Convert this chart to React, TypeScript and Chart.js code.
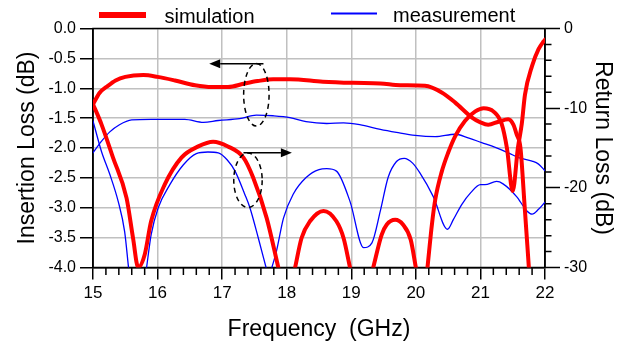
import React, { useEffect, useRef } from 'react';
import { Chart, registerables } from 'chart.js';

Chart.register(...registerables);

const FONT = "'Liberation Sans', Arial, Helvetica, sans-serif";
const RED = '#ff0000';
const BLUE = '#0000ff';

// ---- Data (frequency in GHz) ----
const simILFreq = [15.0, 15.1, 15.23, 15.35, 15.5, 15.78, 16.0, 16.27, 16.58, 16.84, 17.09, 17.35, 17.55, 17.79, 18.05, 18.56, 19.03, 19.45, 19.76, 20.14, 20.4, 20.61, 20.87, 21.0, 21.12, 21.28, 21.43, 21.51, 21.56, 21.62, 21.68, 21.75];
const simILVal = [-1.27, -1.08, -0.96, -0.87, -0.81, -0.78, -0.81, -0.87, -0.95, -0.98, -0.98, -0.92, -0.88, -0.85, -0.85, -0.89, -0.91, -0.92, -0.95, -0.96, -1.07, -1.24, -1.49, -1.57, -1.61, -1.56, -1.52, -1.61, -1.77, -2.0, -2.9, -4.0];

const simRLFreq = [15.0, 15.13, 15.31, 15.52, 15.62, 15.7, 15.8, 15.9, 16.11, 16.37, 16.63, 16.86, 17.09, 17.33, 17.48, 17.69, 17.87, 18.0, 18.13, 18.23, 18.36, 18.57, 18.77, 18.88, 18.98, 19.15, 19.34, 19.47, 19.55, 19.68, 19.8, 19.92, 20.0, 20.1, 20.18, 20.25, 20.3, 20.4, 20.5, 20.61, 20.76, 20.92, 21.05, 21.2, 21.33, 21.41, 21.5, 21.58, 21.64, 21.69, 21.8, 21.9, 21.98, 22.0];
const simRLVal = [-9.5, -12.0, -16.2, -21.3, -26.3, -30, -28.4, -24.2, -19.6, -16.2, -14.8, -14.2, -14.8, -16.2, -18.7, -23.8, -30, null, -30, -26.3, -24.2, -22.9, -24.2, -26.3, -30, null, -30, -25.9, -24.6, -24.0, -24.6, -26.5, -30, null, -30, -24.5, -21.5, -18.0, -15.6, -13.5, -11.6, -10.4, -10.0, -10.4, -12.0, -15.0, -20.4, -15.0, -12.0, -8.3, -4.7, -2.6, -1.6, -1.4];

const measILFreq = [15.0, 15.13, 15.26, 15.41, 15.6, 15.9, 16.42, 16.71, 16.94, 17.27, 17.53, 17.79, 18.05, 18.3, 18.62, 18.88, 19.13, 19.45, 19.7, 19.99, 20.3, 20.61, 20.81, 21.02, 21.23, 21.43, 21.59, 21.8, 21.9, 22.0];
const measILVal = [-2.08, -1.89, -1.73, -1.61, -1.53, -1.52, -1.52, -1.57, -1.54, -1.51, -1.45, -1.46, -1.49, -1.56, -1.59, -1.58, -1.61, -1.69, -1.74, -1.79, -1.81, -1.77, -1.83, -1.91, -1.99, -2.08, -2.16, -2.22, -2.27, -2.38];

const measRLFreq = [15.0, 15.13, 15.26, 15.39, 15.49, 15.55, 15.7, 15.83, 15.9, 16.01, 16.19, 16.4, 16.6, 16.78, 16.94, 17.08, 17.2, 17.35, 17.43, 17.56, 17.68, 17.72, 17.77, 17.84, 17.95, 18.1, 18.3, 18.5, 18.62, 18.77, 18.98, 19.19, 19.32, 19.45, 19.57, 19.7, 19.82, 19.95, 20.06, 20.27, 20.49, 20.58, 20.71, 20.85, 21.0, 21.07, 21.25, 21.35, 21.56, 21.72, 21.8, 21.9, 22.0];
const measRLVal = [-11.6, -15.4, -18.3, -21.7, -25.5, -30, null, -30, -25.9, -22.5, -19.6, -17.1, -15.7, -15.5, -15.6, -16.5, -17.9, -20.8, -22.5, -26.3, -30, null, -30, -28.0, -23.8, -20.8, -18.7, -17.7, -17.6, -17.9, -21.7, -27.5, -26.9, -22.9, -18.7, -16.7, -16.3, -16.9, -18.1, -21.1, -25.2, -24.0, -22.1, -20.6, -19.6, -19.6, -19.2, -19.5, -21.1, -22.9, -23.3, -22.7, -21.8];

const legendLabels = ['simulation', 'measurement'];
const xTitle = 'Frequency  (GHz)';
const yTitle = 'Insertion Loss (dB)';
const y2Title = 'Return Loss (dB)';

// annotations in data coordinates (freq GHz, insertion-loss dB)
const ellipses = [
  { f: 17.53, v: -1.11, rf: 0.197, rv: 0.523 },
  { f: 17.4, v: -2.54, rf: 0.22, rv: 0.456 },
];
const arrows = [
  { f0: 17.64, f1: 16.8, v: -0.59 },
  { f0: 17.33, f1: 18.08, v: -2.08 },
];

const toPts = (f: number[], v: (number | null)[]) => f.map((x, i) => ({ x, y: v[i] }));
const isInt = (v: number) => Math.abs(v - Math.round(v)) < 1e-6;
const isTen = (v: number) => Math.abs(v / 10 - Math.round(v / 10)) < 1e-6;

export default function App() {
  const ref = useRef<HTMLCanvasElement>(null);

  useEffect(() => {
    const canvas = ref.current;
    if (!canvas) return;

    const framePlugin = {
      id: 'frame',
      beforeDatasetsDraw(chart: any) {
        const { ctx, chartArea: a } = chart;
        ctx.save();
        ctx.strokeStyle = '#000';
        ctx.lineWidth = 1.5;
        ctx.strokeRect(a.left, a.top, a.right - a.left, a.bottom - a.top);
        ctx.beginPath();
        const xs = chart.scales.x;
        xs.ticks.forEach((t: any) => {
          if (!isInt(t.value)) {
            const px = xs.getPixelForValue(t.value);
            ctx.moveTo(px, a.bottom);
            ctx.lineTo(px, a.bottom + 7.5);
          }
        });
        const yr = chart.scales.y2;
        yr.ticks.forEach((t: any) => {
          if (!isTen(t.value)) {
            const py = yr.getPixelForValue(t.value);
            ctx.moveTo(a.right, py);
            ctx.lineTo(a.right + 6.5, py);
          }
        });
        ctx.stroke();
        ctx.restore();
      },
    };

    const annotPlugin = {
      id: 'annot',
      afterDatasetsDraw(chart: any) {
        const { ctx } = chart;
        const xs = chart.scales.x;
        const ys = chart.scales.y;
        ctx.save();
        ctx.strokeStyle = '#000';
        ctx.fillStyle = '#000';
        ctx.lineWidth = 1.5;
        ctx.setLineDash([5, 4]);
        ellipses.forEach((e) => {
          const cx = xs.getPixelForValue(e.f);
          const cy = ys.getPixelForValue(e.v);
          const rx = Math.abs(xs.getPixelForValue(e.f + e.rf) - cx);
          const ry = Math.abs(ys.getPixelForValue(e.v + e.rv) - cy);
          ctx.beginPath();
          ctx.ellipse(cx, cy, rx, ry, 0, 0, Math.PI * 2);
          ctx.stroke();
        });
        ctx.setLineDash([]);
        arrows.forEach((ar) => {
          const x0 = xs.getPixelForValue(ar.f0);
          const x1 = xs.getPixelForValue(ar.f1);
          const y = ys.getPixelForValue(ar.v);
          const dir = Math.sign(x1 - x0);
          const head = 11;
          ctx.beginPath();
          ctx.moveTo(x0, y);
          ctx.lineTo(x1 - dir * head, y);
          ctx.stroke();
          ctx.beginPath();
          ctx.moveTo(x1, y);
          ctx.lineTo(x1 - dir * head, y - 4.5);
          ctx.lineTo(x1 - dir * head, y + 4.5);
          ctx.closePath();
          ctx.fill();
        });
        ctx.restore();
      },
    };

    const legendPlugin = {
      id: 'customLegend',
      afterDraw(chart: any) {
        const { ctx } = chart;
        ctx.save();
        ctx.lineCap = 'butt';
        ctx.strokeStyle = RED;
        ctx.lineWidth = 6;
        ctx.beginPath();
        ctx.moveTo(99, 15);
        ctx.lineTo(146, 15);
        ctx.stroke();
        ctx.strokeStyle = BLUE;
        ctx.lineWidth = 2;
        ctx.beginPath();
        ctx.moveTo(331, 13.5);
        ctx.lineTo(377, 13.5);
        ctx.stroke();
        ctx.fillStyle = '#000';
        ctx.font = `20px ${FONT}`;
        ctx.textBaseline = 'alphabetic';
        ctx.textAlign = 'left';
        ctx.fillText(legendLabels[0], 164.5, 23);
        ctx.fillText(legendLabels[1], 393, 22);
        ctx.restore();
      },
    };

    const gridGray = '#c0c0c0';
    const clear = 'rgba(0,0,0,0)';

    const chart = new Chart(canvas, {
      type: 'line',
      data: {
        datasets: [
          { label: 'simulation IL', data: toPts(simILFreq, simILVal), borderColor: RED, borderWidth: 4, yAxisID: 'y', order: 0 },
          { label: 'simulation RL', data: toPts(simRLFreq, simRLVal), borderColor: RED, borderWidth: 4, yAxisID: 'y2', order: 0 },
          { label: 'measurement IL', data: toPts(measILFreq, measILVal), borderColor: BLUE, borderWidth: 1.3, yAxisID: 'y', order: 1 },
          { label: 'measurement RL', data: toPts(measRLFreq, measRLVal), borderColor: BLUE, borderWidth: 1.3, yAxisID: 'y2', order: 1 },
        ] as any,
      },
      options: {
        animation: false,
        responsive: true,
        maintainAspectRatio: false,
        spanGaps: false,
        layout: { padding: { top: 28.5, left: 0, right: 0, bottom: 0 } },
        elements: {
          point: { radius: 0 },
          line: { cubicInterpolationMode: 'monotone', borderJoinStyle: 'round', borderCapStyle: 'round', fill: false },
        },
        plugins: { legend: { display: false }, tooltip: { enabled: false } },
        scales: {
          x: {
            type: 'linear',
            min: 15,
            max: 22,
            ticks: {
              stepSize: 0.2,
              maxTicksLimit: 100,
              autoSkip: false,
              maxRotation: 0,
              padding: 4,
              color: '#000',
              font: { size: 17, family: FONT },
              callback: (v: any) => (isInt(v) ? String(Math.round(v)) : ''),
            },
            grid: {
              color: (c: any) => (isInt(c.tick.value) ? gridGray : clear),
              lineWidth: 1.5,
              tickLength: 12,
              tickWidth: 1.5,
              tickColor: (c: any) => (isInt(c.tick.value) ? '#000' : clear),
            },
            border: { color: '#000', width: 1.5 },
            title: { display: true, text: xTitle, color: '#000', font: { size: 23, family: FONT }, padding: { top: 0, bottom: 6.5 } },
            afterFit: (s: any) => { s.height = 82.5; },
          },
          y: {
            position: 'left',
            min: -4,
            max: 0,
            ticks: {
              stepSize: 0.5,
              padding: 4,
              color: '#000',
              font: { size: 16, family: FONT },
              callback: (v: any) => Number(v).toFixed(1),
            },
            grid: { color: gridGray, lineWidth: 1.5, tickLength: 13, tickWidth: 1.5, tickColor: '#000' },
            border: { color: '#000', width: 1.5 },
            title: { display: true, text: yTitle, color: '#000', font: { size: 23, family: FONT }, padding: { top: 13.7, bottom: 0 } },
            afterFit: (s: any) => { s.width = 93; },
          },
          y2: {
            position: 'right',
            min: -30,
            max: 0,
            ticks: {
              stepSize: 2,
              autoSkip: false,
              padding: 4,
              color: '#000',
              font: { size: 16, family: FONT },
              callback: (v: any) => (isTen(v) ? String(Math.round(v)) : ''),
            },
            grid: {
              drawOnChartArea: false,
              tickLength: 15,
              tickWidth: 1.5,
              tickColor: (c: any) => (isTen(c.tick.value) ? '#000' : clear),
            },
            border: { color: '#000', width: 1.5 },
            title: { display: true, text: y2Title, color: '#000', font: { size: 23, family: FONT }, padding: { top: 19.6, bottom: 0 } },
            afterFit: (s: any) => { s.width = 91; },
          },
        },
      } as any,
      plugins: [framePlugin, annotPlugin, legendPlugin],
    });

    return () => chart.destroy();
  }, []);

  return (
    <div style={{ position: 'fixed', left: 0, top: 0, width: 636, height: 350, background: '#fff' }}>
      <canvas ref={ref} />
    </div>
  );
}
